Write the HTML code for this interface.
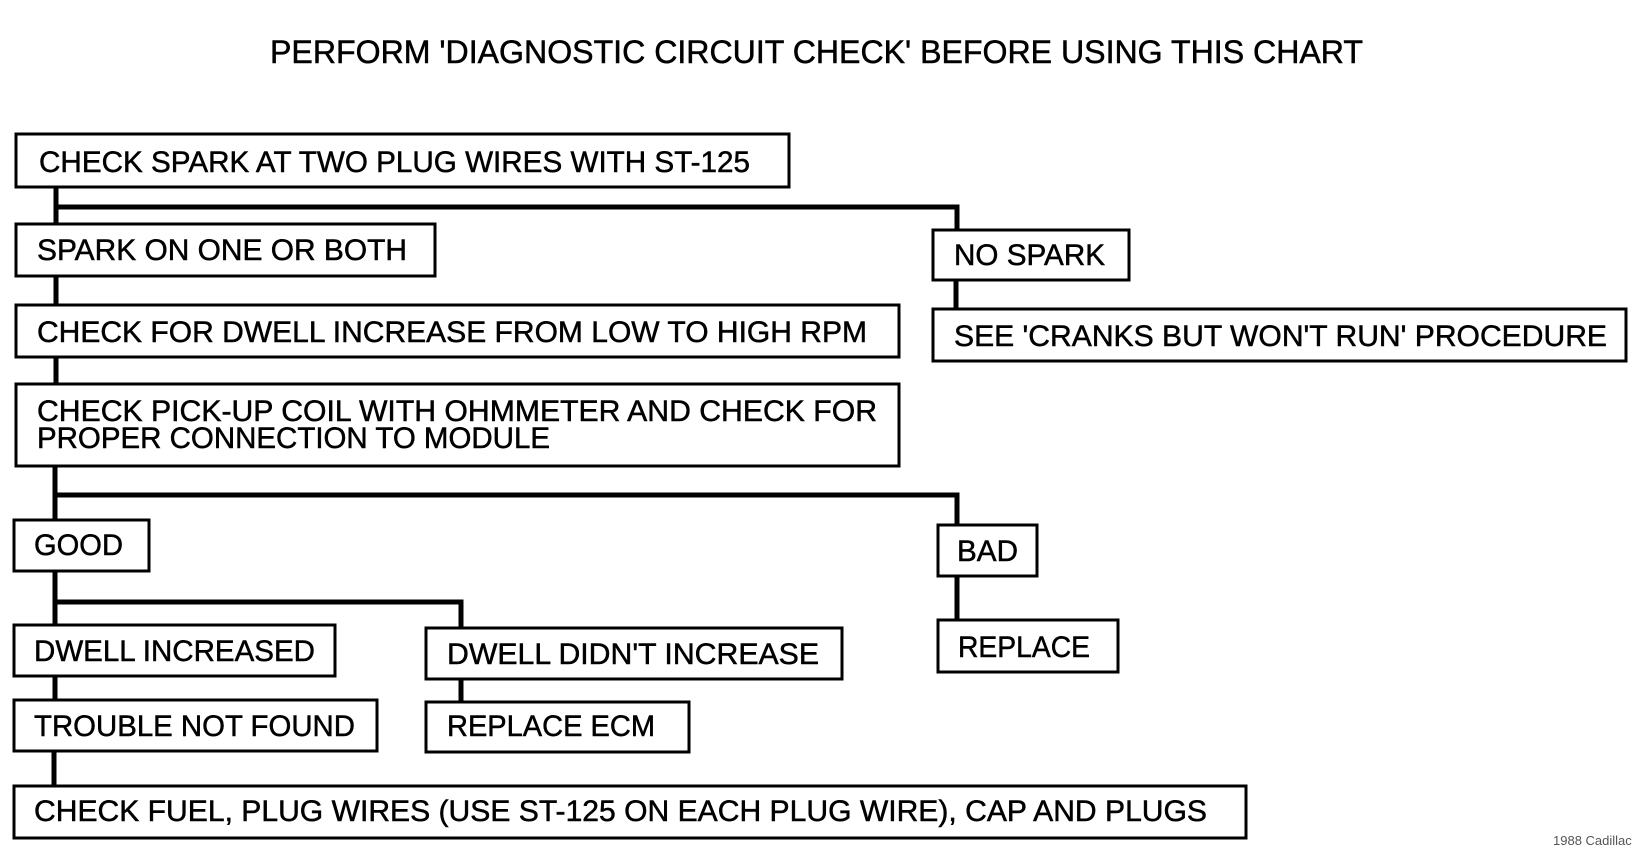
<!DOCTYPE html>
<html><head><meta charset="utf-8"><style>
html,body{margin:0;padding:0;background:#fff;}
svg{display:block;}
text{font-family:"Liberation Sans",sans-serif;fill:#000;font-size:30px;stroke:#000;stroke-width:0.5px;}
text.f{font-size:13px;fill:#555;stroke:none;}
</style></head><body>
<svg width="1638" height="851" viewBox="0 0 1638 851" xmlns="http://www.w3.org/2000/svg">
<text x="270" y="63" style="font-size:32px" textLength="1093" lengthAdjust="spacingAndGlyphs">PERFORM 'DIAGNOSTIC CIRCUIT CHECK' BEFORE USING THIS CHART</text>
<g stroke="#000" stroke-width="5" fill="none">
<path d="M56 187 V224"/>
<path d="M56 207 H957 V230"/>
<path d="M56 276 V305"/>
<path d="M56 357 V384"/>
<path d="M956 280 V309"/>
<path d="M55 466 V520"/>
<path d="M55 495 H957 V525"/>
<path d="M957 576 V620"/>
<path d="M55 571 V625"/>
<path d="M55 602 H461 V628"/>
<path d="M55 676 V700"/>
<path d="M461 679 V702"/>
<path d="M54 751 V786"/>
</g>
<g stroke="#000" stroke-width="3" fill="#fff">
<rect x="16" y="134" width="773" height="53"/>
<rect x="16" y="224" width="419" height="52"/>
<rect x="933" y="230" width="196" height="50"/>
<rect x="933" y="309" width="693" height="52"/>
<rect x="16" y="305" width="883" height="52"/>
<rect x="16" y="384" width="883" height="82"/>
<rect x="14" y="520" width="135" height="51"/>
<rect x="938" y="525" width="99" height="51"/>
<rect x="938" y="620" width="180" height="52"/>
<rect x="14" y="625" width="321" height="51"/>
<rect x="426" y="628" width="416" height="51"/>
<rect x="426" y="702" width="263" height="50"/>
<rect x="14" y="700" width="363" height="51"/>
<rect x="14" y="786" width="1232" height="52"/>
</g>
<text x="39" y="172" textLength="711" lengthAdjust="spacingAndGlyphs">CHECK SPARK AT TWO PLUG WIRES WITH ST-125</text>
<text x="37" y="260" textLength="370" lengthAdjust="spacingAndGlyphs">SPARK ON ONE OR BOTH</text>
<text x="954" y="265" textLength="151" lengthAdjust="spacingAndGlyphs">NO SPARK</text>
<text x="954" y="346" textLength="653" lengthAdjust="spacingAndGlyphs">SEE 'CRANKS BUT WON'T RUN' PROCEDURE</text>
<text x="37" y="342" textLength="830" lengthAdjust="spacingAndGlyphs">CHECK FOR DWELL INCREASE FROM LOW TO HIGH RPM</text>
<text x="37" y="421" textLength="840" lengthAdjust="spacingAndGlyphs">CHECK PICK-UP COIL WITH OHMMETER AND CHECK FOR</text>
<text x="37" y="448" textLength="513" lengthAdjust="spacingAndGlyphs">PROPER CONNECTION TO MODULE</text>
<text x="34" y="555" textLength="89" lengthAdjust="spacingAndGlyphs">GOOD</text>
<text x="957" y="561" textLength="61" lengthAdjust="spacingAndGlyphs">BAD</text>
<text x="958" y="657" textLength="132" lengthAdjust="spacingAndGlyphs">REPLACE</text>
<text x="34" y="661" textLength="281" lengthAdjust="spacingAndGlyphs">DWELL INCREASED</text>
<text x="447" y="664" textLength="372" lengthAdjust="spacingAndGlyphs">DWELL DIDN'T INCREASE</text>
<text x="447" y="736" textLength="208" lengthAdjust="spacingAndGlyphs">REPLACE ECM</text>
<text x="34" y="736" textLength="321" lengthAdjust="spacingAndGlyphs">TROUBLE NOT FOUND</text>
<text x="34" y="821" textLength="1173" lengthAdjust="spacingAndGlyphs">CHECK FUEL, PLUG WIRES (USE ST-125 ON EACH PLUG WIRE), CAP AND PLUGS</text>
<text class="f" x="1553" y="845">1988 Cadillac</text>
</svg>
</body></html>
